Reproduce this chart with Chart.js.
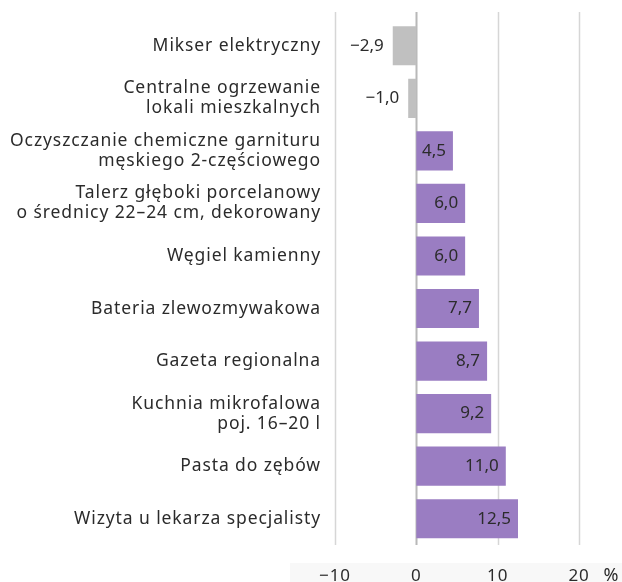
<!DOCTYPE html>
<html>
<head>
<meta charset="utf-8">
<script src="https://cdn.jsdelivr.net/npm/chart.js@4.4.1/dist/chart.umd.min.js"></script>
<style>
    html, body { margin: 0; padding: 0; background: #ffffff; }
    #wrap { width: 622px; height: 582px; position: relative; }
</style>
</head>
<body>
<div id="wrap"><canvas id="chart"></canvas></div>
<script>
// categories (top to bottom), values in %
const categories = [
    'Mikser elektryczny',
    ['Centralne ogrzewanie', 'lokali mieszkalnych'],
    ['Oczyszczanie chemiczne garnituru', 'męskiego 2-częściowego'],
    ['Talerz głęboki porcelanowy', 'o średnicy 22–24 cm, dekorowany'],
    'Węgiel kamienny',
    'Bateria zlewozmywakowa',
    'Gazeta regionalna',
    ['Kuchnia mikrofalowa', 'poj. 16–20 l'],
    'Pasta do zębów',
    'Wizyta u lekarza specjalisty'
];
const values = [-2.9, -1.0, 4.5, 6.0, 6.0, 7.7, 8.7, 9.2, 11.0, 12.5];
const xTicks = [-10, 0, 10, 20];
const unitLabel = '%';

const FONT = '"Noto Sans", "Open Sans", sans-serif';
const TEXT = '#2b2b2b';
const PURPLE = '#9a7dc2';
const GREY = '#c0c0c0';

const fmt = v => (v < 0 ? '\u2212' : '') + Math.abs(v).toFixed(1).replace('.', ',');

// grid lines, tick band, unit sign and value labels
const extras = {
    id: 'extras',
    beforeDraw(chart) {
        const { ctx, chartArea } = chart;
        ctx.save();
        ctx.fillStyle = '#f8f8f8';
        ctx.fillRect(290, chartArea.bottom + 18, 332, 40);
        ctx.restore();
        // wider text for the axis labels
        ctx.letterSpacing = '0.9px';
    },
    beforeDatasetsDraw(chart) {
        const { ctx, chartArea, scales } = chart;
        ctx.letterSpacing = '0px';
        ctx.save();
        xTicks.forEach(t => {
            const x = Math.round(scales.x.getPixelForValue(t)) + 0.5;
            ctx.strokeStyle = t === 0 ? '#b8b8b8' : '#d6d6d6';
            ctx.lineWidth = t === 0 ? 2 : 1.5;
            ctx.beginPath();
            ctx.moveTo(x, 12);
            ctx.lineTo(x, chartArea.bottom);
            ctx.stroke();
        });
        ctx.restore();
    },
    afterDatasetsDraw(chart) {
        const { ctx, chartArea } = chart;
        const meta = chart.getDatasetMeta(0);
        ctx.save();
        ctx.font = '17px ' + FONT;
        ctx.fillStyle = TEXT;
        ctx.textBaseline = 'middle';
        ctx.textAlign = 'right';
        meta.data.forEach((bar, i) => {
            const v = values[i];
            const x = v < 0 ? bar.x - 9 : bar.x - 7;
            ctx.fillText(fmt(v), x, bar.y);
        });
        ctx.textAlign = 'center';
        ctx.font = '18px ' + FONT;
        ctx.fillText(unitLabel, 611, chartArea.bottom + 31);
        ctx.restore();
    }
};

new Chart(document.getElementById('chart'), {
    type: 'bar',
    data: {
        labels: categories,
        datasets: [{
            data: values,
            backgroundColor: values.map(v => v < 0 ? GREY : PURPLE),
            borderWidth: 0,
            barPercentage: 0.745,
            categoryPercentage: 1
        }]
    },
    options: {
        indexAxis: 'y',
        responsive: true,
        maintainAspectRatio: false,
        animation: false,
        layout: { padding: { top: 19.5, right: 43, left: 0, bottom: 0 } },
        plugins: {
            legend: { display: false },
            tooltip: { enabled: false }
        },
        scales: {
            x: {
                min: -10,
                max: 20,
                afterBuildTicks: s => { s.ticks = xTicks.map(v => ({ value: v })); },
                afterFit: s => { s.height = 37; },
                grid: { display: false },
                border: { display: false },
                ticks: {
                    color: TEXT,
                    padding: 13,
                    font: { family: FONT, size: 17 },
                    callback: v => fmt(v).replace(',0', '')
                }
            },
            y: {
                afterFit: s => { s.width = 335; },
                grid: { display: false },
                border: { display: false },
                ticks: {
                    color: TEXT,
                    padding: 6,
                    font: { family: FONT, size: 17.5, lineHeight: 1.15 }
                }
            }
        }
    },
    plugins: [extras]
});
</script>
</body>
</html>
